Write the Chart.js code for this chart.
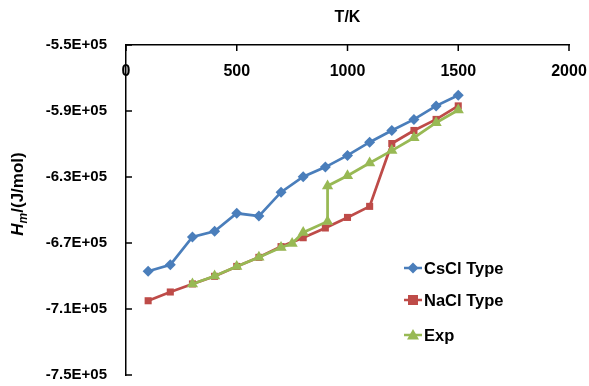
<!DOCTYPE html>
<html>
<head>
<meta charset="utf-8">
<script src="https://cdn.jsdelivr.net/npm/chart.js@4.4.1/dist/chart.umd.min.js"></script>
<style>
  html, body { margin: 0; padding: 0; background: #fff; }
  #wrap { width: 589px; height: 386px; }
</style>
</head>
<body>
<div id="wrap"><canvas id="chart"></canvas></div>
<script>
// data
const tempsCalc = [100, 200, 300, 400, 500, 600, 700, 800, 900, 1000, 1100, 1200, 1300, 1400, 1500];
const cscl = [-687100, -683200, -666300, -662900, -652000, -653700, -639200, -629800, -624000, -616900, -608900, -601800, -595100, -586900, -580400];
const nacl = [-705000, -699700, -694800, -690200, -684200, -678700, -672200, -666800, -660900, -654500, -647800, -609700, -601800, -595100, -586900];
const tempsExp = [300, 400, 500, 600, 700, 750, 800, 910, 910, 1000, 1100, 1200, 1300, 1400, 1500];
const expVals = [-694800, -690000, -684200, -678700, -672700, -670300, -663600, -656900, -635400, -629200, -621500, -614000, -606200, -597100, -589400];

const FONT = "'Liberation Sans', Arial, sans-serif";
const BLUE = '#4A7EBB', RED = '#BE4B48', GREEN = '#98B954';

function pts(xs, ys) { return xs.map((x, i) => ({ x: x, y: ys[i] })); }

function drawMarker(ctx, style, x, y, color) {
  ctx.fillStyle = color;
  ctx.beginPath();
  if (style === 'rectRot') {
    const r = 5.5;
    ctx.moveTo(x, y - r); ctx.lineTo(x + r, y); ctx.lineTo(x, y + r); ctx.lineTo(x - r, y);
  } else if (style === 'rect') {
    ctx.rect(x - 5, y - 5, 10, 10);
  } else {
    ctx.moveTo(x, y - 6); ctx.lineTo(x + 6, y + 4.5); ctx.lineTo(x - 6, y + 4.5);
  }
  ctx.closePath();
  ctx.fill();
}

const series = [
  { label: 'CsCl Type', style: 'rectRot', color: BLUE },
  { label: 'NaCl Type', style: 'rect', color: RED },
  { label: 'Exp', style: 'triangle', color: GREEN }
];

const extras = {
  id: 'extras',
  afterDraw(chart) {
    const ctx = chart.ctx;
    const area = chart.chartArea;
    const xs = chart.scales.x, ys = chart.scales.y;
    ctx.save();
    ctx.strokeStyle = '#000';
    ctx.lineWidth = 1.5;
    // inner tick marks
    xs.ticks.forEach(t => {
      const px = xs.getPixelForValue(t.value);
      ctx.beginPath(); ctx.moveTo(px, area.top); ctx.lineTo(px, area.top + 6); ctx.stroke();
    });
    ys.ticks.forEach(t => {
      const py = ys.getPixelForValue(t.value);
      ctx.beginPath(); ctx.moveTo(area.left, py); ctx.lineTo(area.left + 6, py); ctx.stroke();
    });
    // x tick labels sit under the top axis
    ctx.fillStyle = '#000';
    ctx.font = 'bold 16px ' + FONT;
    ctx.textAlign = 'center';
    ctx.textBaseline = 'middle';
    xs.ticks.forEach(t => {
      ctx.fillText(String(t.value), xs.getPixelForValue(t.value), area.top + 27);
    });
    // x title
    ctx.font = 'bold 16px ' + FONT;
    ctx.fillText('T/K', (area.left + area.right) / 2, 18);

    // y title: H_m/(J/mol)
    ctx.translate(17, 194);
    ctx.rotate(-Math.PI / 2);
    ctx.textAlign = 'left';
    ctx.textBaseline = 'alphabetic';
    const fH = 'italic bold 17px ' + FONT, fM = 'italic bold 12px ' + FONT, fR = 'bold 17px ' + FONT;
    ctx.font = fH; const wH = ctx.measureText('H').width;
    ctx.font = fM; const wM = ctx.measureText('m').width;
    ctx.font = fR; const wR = ctx.measureText('/(J/mol)').width;
    let x0 = -(wH + wM + wR) / 2;
    ctx.font = fH; ctx.fillText('H', x0, 6); x0 += wH;
    ctx.font = fM; ctx.fillText('m', x0, 10); x0 += wM;
    ctx.font = fR; ctx.fillText('/(J/mol)', x0, 6);
    ctx.setTransform(1, 0, 0, 1, 0, 0);

    // legend inside plot
    const rows = [268, 300, 335];
    ctx.font = 'bold 16.5px ' + FONT;
    ctx.textBaseline = 'middle';
    series.forEach((s, i) => {
      const y = rows[i];
      ctx.strokeStyle = s.color;
      ctx.lineWidth = 2.5;
      ctx.beginPath(); ctx.moveTo(404, y); ctx.lineTo(422, y); ctx.stroke();
      drawMarker(ctx, s.style, 413, y, s.color);
      ctx.fillStyle = '#000';
      ctx.fillText(s.label, 424, y + 1);
    });
    ctx.restore();
  }
};

function ds(label, data, color, style, radius, order) {
  return {
    label: label, data: data, showLine: true,
    borderColor: color, backgroundColor: color,
    pointBackgroundColor: color, pointBorderColor: color,
    pointStyle: style, pointRadius: radius, pointBorderWidth: 0,
    pointHoverRadius: radius, borderWidth: 2.75, tension: 0, order: order
  };
}

new Chart(document.getElementById('chart'), {
  type: 'scatter',
  data: {
    datasets: [
      ds('CsCl Type', pts(tempsCalc, cscl), BLUE, 'rectRot', 5.5, 2),
      ds('NaCl Type', pts(tempsCalc, nacl), RED, 'rect', 5, 1),
      ds('Exp', pts(tempsExp, expVals), GREEN, 'triangle', 6.5, 0)
    ]
  },
  options: {
    responsive: true,
    maintainAspectRatio: false,
    animation: false,
    layout: { padding: { left: 0, top: 0, right: 20, bottom: 11 } },
    plugins: { legend: { display: false }, tooltip: { enabled: false } },
    scales: {
      x: {
        type: 'linear', position: 'top', min: 0, max: 2000,
        ticks: { stepSize: 500, display: false },
        grid: { display: false, drawTicks: false },
        border: { display: true, color: '#000', width: 1.5 },
        afterFit: s => { s.height = 45; }
      },
      y: {
        type: 'linear', min: -750000, max: -550000,
        ticks: {
          stepSize: 40000, padding: 2, color: '#000',
          font: { family: FONT, size: 15, weight: 'bold' },
          callback: v => (v / 1e5).toFixed(1) + 'E+05'
        },
        grid: { display: false, drawTicks: true, tickLength: 17 },
        border: { display: true, color: '#000', width: 1.5 },
        afterFit: s => { s.width = 126; }
      }
    }
  },
  plugins: [extras]
});
</script>
</body>
</html>
